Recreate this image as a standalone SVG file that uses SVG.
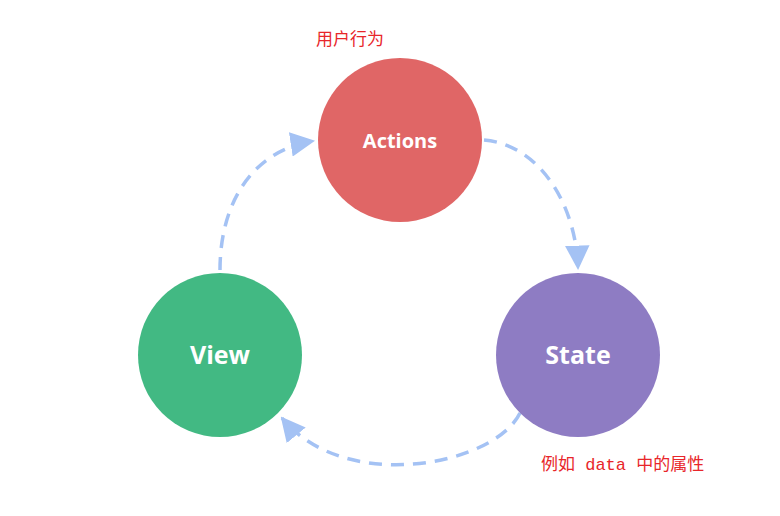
<svg xmlns="http://www.w3.org/2000/svg" width="780" height="516" viewBox="0 0 780 516">
<defs>
<style>
.node-label{font-family:"Open Sans","Liberation Sans",sans-serif;font-weight:bold;fill:#ffffff;text-anchor:middle;}
.note{font-family:"Liberation Serif","Noto Sans CJK SC",serif;font-size:17px;fill:#e8262a;}
.mono{font-family:"Liberation Mono",monospace;}
.conn{fill:none;stroke:#a4c2f4;stroke-width:3.5;stroke-dasharray:13 9;}
</style>
<marker id="arrow" viewBox="0 0 12 12" refX="11" refY="6" markerWidth="7" markerHeight="7" markerUnits="strokeWidth" orient="auto">
<path d="M0,0 L12,6 L0,12 z" fill="#a4c2f4"/>
</marker>
</defs>
<rect width="780" height="516" fill="#ffffff"/>
<g id="connectors">
<path class="conn" d="M220,270 C220,200 255,150 313,141" marker-end="url(#arrow)"/>
<path class="conn" d="M484,140 C540,145 576,205 578,268" marker-end="url(#arrow)"/>
<path class="conn" d="M520,413 C495,465 345,495 282,418" marker-end="url(#arrow)"/>
</g>
<g id="actions">
<circle cx="400" cy="140" r="82" fill="#e06666"/>
<text class="node-label" x="400" y="148" font-size="20">Actions</text>
</g>
<g id="view">
<circle cx="220" cy="355" r="82" fill="#42b983"/>
<text class="node-label" x="220" y="364" font-size="25">View</text>
</g>
<g id="state">
<circle cx="578" cy="355" r="82" fill="#8e7cc3"/>
<text class="node-label" x="578" y="364" font-size="25">State</text>
</g>
<g id="labels">
<text class="note" x="316" y="45">用户行为</text>
<text class="note" x="541" y="470" xml:space="preserve">例如<tspan class="mono"> data </tspan>中的属性</text>
</g>
</svg>
